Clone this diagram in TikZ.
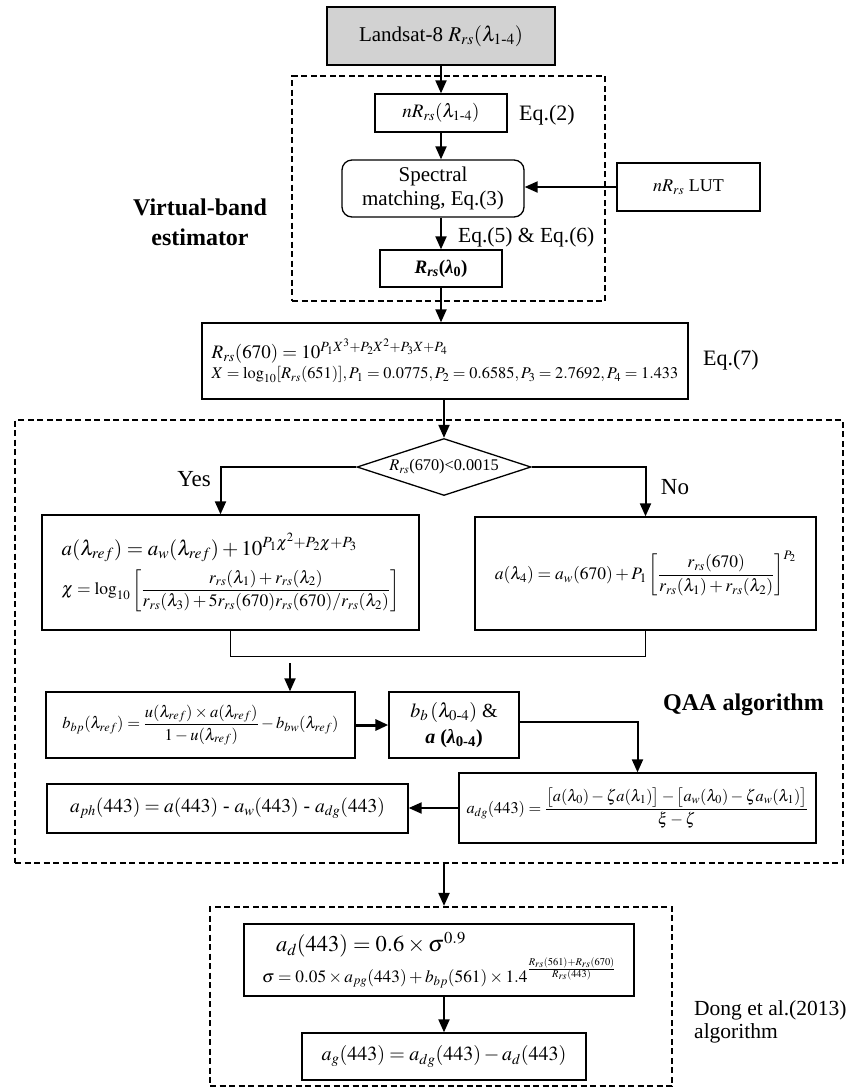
\documentclass[tikz,border=0pt]{standalone}
\usepackage{amsmath}
\usepackage{mathptmx}
\usepackage{fontspec}
\setmainfont{Liberation Serif}
\usetikzlibrary{arrows.meta,shapes.geometric}

\newcommand{\fsize}[2]{\fontsize{#1}{#2}\selectfont}
\newcommand{\dash}{\text{-}}

\tikzset{
  box/.style={draw, line width=1.3pt, inner sep=3pt, align=center},
  frame/.style={draw, line width=2.2pt, dash pattern=on 6pt off 3.5pt},
  arr/.style={-{Triangle[length=13pt,width=11pt]}, line width=2pt},
  lbl/.style={inner sep=0pt, align=left}
}

\begin{document}
\begin{tikzpicture}[x=1pt,y=-1pt]
  \useasboundingbox (0,0) rectangle (850,1088);

  % dashed frames
  \node[frame, minimum width=313pt, minimum height=225pt] (vbf) at (448.5,188.5) {};
  \node[frame, minimum width=828pt, minimum height=443pt] (qaaf) at (429,641.5) {};
  \node[frame, minimum width=462pt, minimum height=179pt] (dongf) at (441,996.5) {};

  % virtual-band estimator
  \draw
    (441,36) node[box, fill=gray!35, minimum width=228pt, minimum height=58pt, font=\fsize{21}{25}] (land)
      {Landsat-8 $R_{rs}(\lambda_{1\dash4})$}
    (441,113) node[box, minimum width=132pt, minimum height=38pt, font=\fsize{19}{23}] (nrrs)
      {$nR_{rs}(\lambda_{1\dash4})$}
    (519,115) node[lbl, anchor=west, font=\fsize{22}{26}] (eq2) {Eq.(2)}
    (433,188.5) node[box, rounded corners=10pt, minimum width=182pt, minimum height=57pt, font=\fsize{21}{24}] (spec)
      {Spectral\\matching, Eq.(3)}
    (688.5,187) node[box, minimum width=143pt, minimum height=48pt, font=\fsize{18}{22}] (lut)
      {$nR_{rs}$ LUT}
    (200,222) node[lbl, align=center, font=\fsize{24}{30}\bfseries] (vbl)
      {Virtual-band\\estimator}
    (458,237) node[lbl, anchor=west, font=\fsize{21.5}{25}] (eq56) {Eq.(5) \& Eq.(6)}
    (441,268.5) node[box, minimum width=122pt, minimum height=37pt, font=\fsize{19}{23}] (rrs0)
      {\textbf{\textit{R}\textsubscript{\textit{rs}}(\textit{λ}\textsubscript{0})}};

  % eq.(7)
  \draw
    (445,361) node[box, minimum width=486pt, minimum height=76pt, align=left, font=\fsize{16.3}{20}] (eq7)
      {{\fsize{19}{20}$R_{rs}(670)=10^{P_1X^3+P_2X^2+P_3X+P_4}$}\\
       $X=\log_{10}[R_{rs}(651)],P_1=0.0775,P_2=0.6585,P_3=2.7692,P_4=1.433$}
    (703,360) node[lbl, anchor=west, font=\fsize{22}{26}] (eq7l) {Eq.(7)};

  % QAA algorithm
  \draw
    (444,467) node[draw, diamond, aspect=3, line width=1.3pt, inner sep=0pt, minimum width=174pt, minimum height=57pt, font=\fsize{16.3}{19}] (dia)
      {\makebox[0pt]{$R_{rs}$(670)<0.0015}}
    (194,479) node[lbl, font=\fsize{23}{27}] (yes) {Yes}
    (675,487) node[lbl, font=\fsize{23}{27}] (no) {No}
    (230.5,572.5) node[box, minimum width=377pt, minimum height=115pt, align=left, font=\fsize{17.5}{21}] (ybox)
      {{\fsize{21}{22}$a(\lambda_{ref})=a_w(\lambda_{ref})+10^{P_1\chi^2+P_2\chi+P_3}$}\\[7pt]
       $\chi=\log_{10}\left[\dfrac{r_{rs}(\lambda_1)+r_{rs}(\lambda_2)}{r_{rs}(\lambda_3)+5r_{rs}(670)r_{rs}(670)/r_{rs}(\lambda_2)}\right]$}
    (645.5,573.5) node[box, minimum width=341pt, minimum height=113pt, font=\fsize{17.5}{21}] (nbox)
      {$a(\lambda_4)=a_w(670)+P_1\left[\dfrac{r_{rs}(670)}{r_{rs}(\lambda_1)+r_{rs}(\lambda_2)}\right]^{P_2}$}
    (200.5,725) node[box, minimum width=309pt, minimum height=66pt, font=\fsize{16.5}{20}] (bbp)
      {$b_{bp}(\lambda_{ref})=\dfrac{u(\lambda_{ref})\times a(\lambda_{ref})}{1-u(\lambda_{ref})}-b_{bw}(\lambda_{ref})$}
    (454,725) node[box, minimum width=130pt, minimum height=66pt, font=\fsize{20}{26}] (bb)
      {$b_b\,(\lambda_{0\dash4})$ \&\\ \textbf{\textit{a} (\textit{λ}\textsubscript{0-4})}}
    (743.5,705) node[lbl, font=\fsize{24}{28}\bfseries] (qaal) {QAA algorithm}
    (637.5,808) node[box, minimum width=357pt, minimum height=70pt, font=\fsize{16.3}{20}] (adg)
      {$a_{dg}(443)=\dfrac{\big[a(\lambda_0)-\zeta a(\lambda_1)\big]-\big[a_w(\lambda_0)-\zeta a_w(\lambda_1)\big]}{\xi-\zeta}$}
    (227.5,808.5) node[box, minimum width=361pt, minimum height=49pt, font=\fsize{19.5}{24}] (aph)
      {$a_{ph}(443)=a(443)$ - $a_w(443)$ - $a_{dg}(443)$};
  \coordinate (mrg) at (290,663);

  % Dong et al. algorithm
  \draw
    (439,960) node[box, minimum width=390pt, minimum height=72pt, align=left, font=\fsize{17.3}{26}] (ad)
      {\hspace{14pt}{\fsize{22.5}{26}$a_d(443)=0.6\times\sigma^{0.9}$}\\
       $\sigma=0.05\times a_{pg}(443)+b_{bp}(561)\times1.4^{\frac{R_{rs}(561)+R_{rs}(670)}{R_{rs}(443)}}$}
    (444,1056.5) node[box, minimum width=284pt, minimum height=47pt, font=\fsize{20}{24}] (ag)
      {$a_g(443)=a_{dg}(443)-a_d(443)$}
    (694,1022) node[lbl, anchor=west, font=\fsize{21.5}{23}] (dongl) {Dong et al.(2013)\\algorithm};

  \begin{scope}[arr]
    \draw (land.south) to (land.south |- nrrs.north);
    \draw (nrrs.south) to (nrrs.south |- spec.north);
    \draw (lut.west) to (lut.west -| spec.east);
    \draw (spec.south -| rrs0.north) to (rrs0.north);
    \draw (rrs0.south) to (rrs0.south |- eq7.north);
    \draw (dia.north |- eq7.south) to (dia.north);
    \draw (dia.west) -| ([xshift=-10pt]ybox.north);
    \draw (dia.east) -| (nbox.north);
    \draw (mrg) to (mrg |- bbp.north);
    \draw[line width=3pt] (bbp.east) to (bb.west);
    \draw ([yshift=3pt]bb.east) -| (adg.north);
    \draw (adg.west) to (adg.west -| aph.east);
    \draw (qaaf.south -| dia.north) to (dongf.north -| dia.north);
    \draw (ad.south -| ag.north) to (ag.north);
  \end{scope}
  \begin{scope}[-, line width=1.3pt]
    \draw (ybox.south) -- ++(0,26) -| (nbox.south);
  \end{scope}
\end{tikzpicture}
\end{document}
